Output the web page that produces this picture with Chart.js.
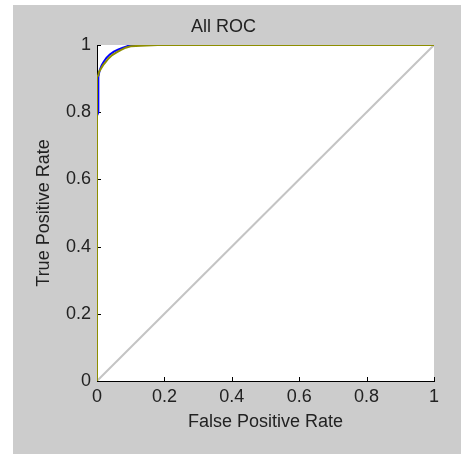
<!DOCTYPE html>
<html>
<head>
<meta charset="utf-8">
<script src="https://cdn.jsdelivr.net/npm/chart.js@4/dist/chart.umd.min.js"></script>
<style>
  html, body { margin: 0; padding: 0; background: #ffffff; }
  #wrap { position: absolute; left: 13px; top: 5px; width: 448px; height: 449px; background: #cccccc; }
</style>
</head>
<body>
<div id="wrap"><canvas id="roc" width="448" height="449"></canvas></div>
<script>
// valores
const tickValues = [0, 0.2, 0.4, 0.6, 0.8, 1];

const class1Fpr = [0, 0, 0.004, 0.004, 0.008, 0.014, 0.02, 0.028, 0.038, 0.05, 0.062, 0.075, 0.088, 0.1, 1];
const class1Tpr = [0, 0.79, 0.8, 0.905, 0.925, 0.94, 0.95, 0.962, 0.972, 0.98, 0.986, 0.991, 0.996, 1, 1];

const class2Fpr = [0, 0, 0.004, 0.006, 0.012, 0.018, 0.026, 0.034, 0.045, 0.058, 0.07, 0.085, 0.1, 0.13, 0.18, 1];
const class2Tpr = [0, 0.905, 0.91, 0.92, 0.93, 0.94, 0.95, 0.96, 0.97, 0.978, 0.985, 0.992, 0.996, 0.998, 1, 1];

const diagFpr = [0, 1];
const diagTpr = [0, 1];

const toPoints = (xs, ys) => xs.map((x, i) => ({ x: x, y: ys[i] }));

// fondo blanco del area y marcas hacia dentro
const areaPlugin = {
  id: "area",
  beforeDraw(chart) {
    const a = chart.chartArea;
    const ctx = chart.ctx;
    ctx.save();
    ctx.fillStyle = "#ffffff";
    ctx.fillRect(a.left, a.top, a.right - a.left, a.bottom - a.top);
    ctx.restore();
  },
  beforeDatasetsDraw(chart) {
    const a = chart.chartArea;
    const ctx = chart.ctx;
    const xs = chart.scales.x;
    const ys = chart.scales.y;
    ctx.save();
    ctx.strokeStyle = "#000000";
    ctx.lineWidth = 1;
    ctx.beginPath();
    tickValues.forEach(v => {
      const px = Math.round(xs.getPixelForValue(v)) + 0.5;
      ctx.moveTo(px, a.bottom);
      ctx.lineTo(px, a.bottom - 4);
      const py = Math.round(ys.getPixelForValue(v)) + 0.5;
      ctx.moveTo(a.left, py);
      ctx.lineTo(a.left + 4, py);
    });
    ctx.stroke();
    ctx.restore();
  }
};

const font = { family: "Liberation Sans, Arial, sans-serif", size: 18, weight: "normal" };
const textColor = "#222222";

new Chart(document.getElementById("roc"), {
  type: "scatter",
  data: {
    datasets: [
      {
        data: toPoints(class2Fpr, class2Tpr),
        showLine: true,
        borderColor: "#8e8e00",
        borderWidth: 2,
        pointRadius: 0,
        clip: 0,
        order: 0
      },
      {
        data: toPoints(class1Fpr, class1Tpr),
        showLine: true,
        borderColor: "#0000ff",
        borderWidth: 2,
        pointRadius: 0,
        clip: 0,
        order: 1
      },
      {
        data: toPoints(diagFpr, diagTpr),
        showLine: true,
        borderColor: "#c4c4c4",
        borderWidth: 2,
        pointRadius: 0,
        clip: 0,
        order: 2
      }
    ]
  },
  options: {
    responsive: false,
    animation: false,
    devicePixelRatio: 1,
    layout: { padding: { left: 0, right: 27, top: 0, bottom: 0 } },
    plugins: {
      legend: { display: false },
      tooltip: { enabled: false },
      title: {
        display: true,
        text: "All ROC",
        color: textColor,
        font: font,
        padding: { top: 11, bottom: 7.4 }
      }
    },
    scales: {
      x: {
        type: "linear",
        min: 0,
        max: 1,
        afterBuildTicks: s => { s.ticks = tickValues.map(v => ({ value: v })); },
        afterFit: s => { s.height = 73; },
        grid: { display: false, drawTicks: false },
        border: { display: true, color: "#000000", width: 1 },
        ticks: { color: textColor, font: font, padding: 5, maxRotation: 0, callback: v => String(v) },
        title: {
          display: true,
          text: "False Positive Rate",
          color: textColor,
          font: font,
          padding: { top: 0, bottom: 21 }
        }
      },
      y: {
        type: "linear",
        min: 0,
        max: 1,
        afterBuildTicks: s => { s.ticks = tickValues.map(v => ({ value: v })); },
        afterFit: s => { s.width = 84; },
        grid: { display: false, drawTicks: false },
        border: { display: true, color: "#000000", width: 1 },
        ticks: { color: textColor, font: font, padding: 6, callback: v => String(v) },
        title: {
          display: true,
          text: "True Positive Rate",
          color: textColor,
          font: font,
          padding: { top: 20, bottom: 0 }
        }
      }
    }
  },
  plugins: [areaPlugin]
});
</script>
</body>
</html>
